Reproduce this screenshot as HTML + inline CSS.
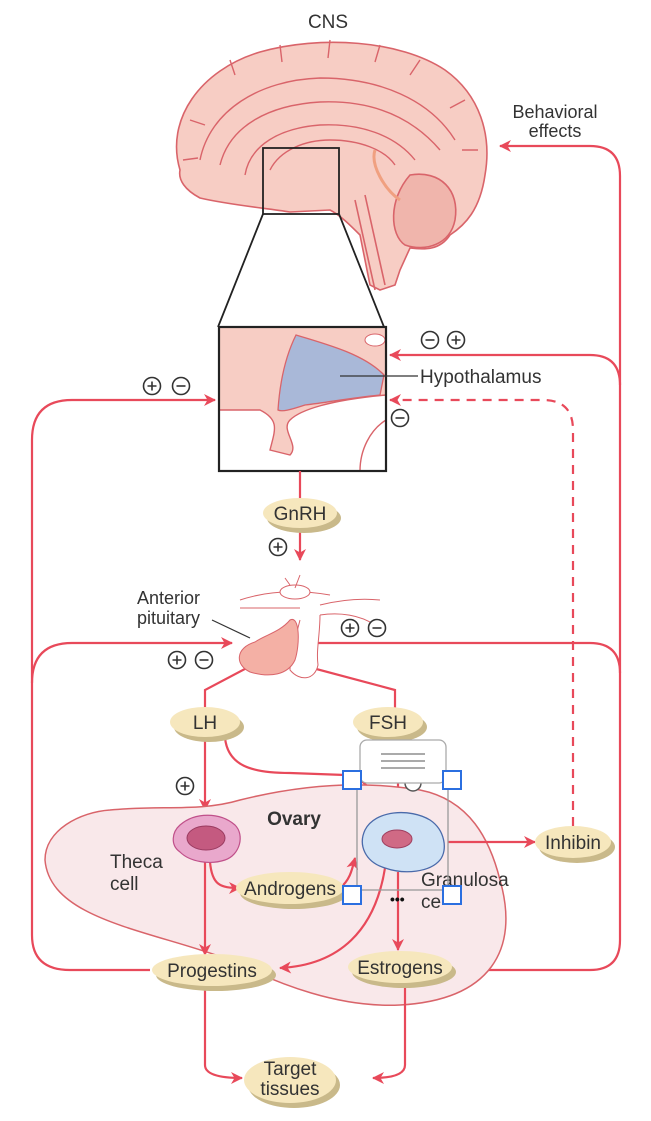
<!DOCTYPE html>
<html><head><meta charset="utf-8"><style>
html,body{margin:0;padding:0;background:#fff;}
svg{display:block;font-family:"Liberation Sans",sans-serif;}
</style></head><body>
<svg width="651" height="1121" viewBox="0 0 651 1121" xmlns="http://www.w3.org/2000/svg">
<defs>
<marker id="ar" markerWidth="12" markerHeight="12" refX="11" refY="6" orient="auto" markerUnits="userSpaceOnUse">
<path d="M0,0 L12,6 L0,12 L3.5,6 Z" fill="#e8495a"/></marker>
<g id="pl"><circle r="8.5" fill="#fff" stroke="#333" stroke-width="1.6"/><path d="M-4.5,0H4.5M0,-4.5V4.5" stroke="#333" stroke-width="1.6"/></g>
<g id="mi"><circle r="8.5" fill="#fff" stroke="#333" stroke-width="1.6"/><path d="M-4.5,0H4.5" stroke="#333" stroke-width="1.6"/></g>
</defs>
<text x="328" y="28" font-size="19" fill="#333" text-anchor="middle">CNS</text>
<!-- brain -->
<g stroke="#d9646a" stroke-width="1.6" fill="#f7cdc4">
<path d="M180,170 C165,120 200,70 260,52 C320,35 400,40 445,70 C480,95 492,135 485,175 C480,210 465,225 450,235 C440,250 425,250 410,248 L400,270 L395,285 L380,290 L370,285 L360,235 C350,225 340,215 330,210 L290,212 C265,208 230,205 200,198 C185,190 178,180 180,170 Z"/>
<path d="M410,175 C440,170 460,190 455,220 C450,245 425,252 405,245 C390,235 388,200 410,175 Z" fill="#f0b5ac"/>
<path d="M355,200 L375,290" fill="none"/>
<path d="M365,195 L385,285" fill="none"/>
</g>
<g stroke="#d9646a" stroke-width="1.4" fill="none">
<path d="M200,160 C210,110 260,80 320,78 C380,78 430,100 455,140"/>
<path d="M220,165 C230,125 270,105 320,102 C370,100 410,115 440,150"/>
<path d="M245,175 C250,145 280,128 320,125 C360,123 395,135 415,160"/>
<path d="M270,170 C280,150 305,140 330,140 C360,140 385,150 395,165"/>
<path d="M230,60 L235,75 M280,45 L282,62 M330,40 L328,58 M380,45 L375,62 M420,60 L410,75 M465,100 L450,108 M478,150 L462,150 M190,120 L205,125 M183,160 L198,158"/>
<path d="M375,150 C370,165 385,190 400,200" stroke="#f0a080" stroke-width="3"/>
</g>
<rect x="263" y="148" width="76" height="66" fill="none" stroke="#222" stroke-width="1.8"/>
<path d="M263,214 L218,327 M339,214 L384,327" stroke="#222" stroke-width="1.8"/>
<!-- big box -->
<rect x="219" y="327" width="167" height="144" fill="#fff"/>
<path d="M219,327 H386 V395 C330,400 300,410 290,420 C280,430 300,445 290,455 L270,450 C275,430 280,420 260,410 L219,410 Z" fill="#f7cdc4" stroke="#d9646a" stroke-width="1.4"/>
<path d="M296,335 C330,345 365,355 384,375 L380,395 C350,398 330,402 305,405 C290,410 282,412 278,410 C280,380 286,355 296,335 Z" fill="#a9b8d8" stroke="#d9646a" stroke-width="1.3"/>
<path d="M386,420 C370,430 360,450 360,471" fill="none" stroke="#d9646a" stroke-width="1.4"/>
<ellipse cx="375" cy="340" rx="10" ry="6" fill="#fff" stroke="#d9646a"/>
<rect x="219" y="327" width="167" height="144" fill="none" stroke="#222" stroke-width="2.2"/>
<path d="M340,376 H418" stroke="#333" stroke-width="1.2"/>
<text x="420" y="383" font-size="19" fill="#333">Hypothalamus</text>
<use href="#mi" x="430" y="340"/><use href="#pl" x="456" y="340"/>
<use href="#mi" x="400" y="418"/>
<use href="#pl" x="152" y="386"/><use href="#mi" x="181" y="386"/>
<g stroke="#e8495a" stroke-width="2.2" fill="none">
<path d="M590,146 H500" marker-end="url(#ar)"/>
<path d="M590,146 Q620,146 620,176 V940 Q620,970 590,970 H450"/>
<path d="M620,385 Q620,355 590,355 H390" marker-end="url(#ar)"/>
<path d="M620,673 Q620,643 590,643 H293" marker-end="url(#ar)"/>
<path d="M150,970 H70 Q32,970 32,935 V440 Q32,400 72,400 H215" marker-end="url(#ar)"/>
<path d="M32,683 Q32,643 72,643 H232" marker-end="url(#ar)"/>
<path d="M573,826 V430 Q573,400 543,400 H390" stroke-dasharray="9,7" marker-end="url(#ar)"/>
<path d="M300,471 V560" marker-end="url(#ar)"/>
<path d="M258,662 L205,690 V708"/>
<path d="M275,658 L395,690 V708"/>
<path d="M205,737 V810" marker-end="url(#ar)"/>
<path d="M225,738 C228,765 250,773 290,773 L345,775 Q370,778 375,805" marker-end="url(#ar)"/>
<path d="M398,737 V805" marker-end="url(#ar)"/>
</g>
<!-- pituitary -->
<g stroke="#d9646a" stroke-width="1" fill="none">
<path d="M240,600 C270,590 300,590 330,595 M240,608 H300 M320,605 C340,600 360,598 380,600 M320,615 C340,612 360,615 375,625"/>
<ellipse cx="295" cy="592" rx="15" ry="7" fill="#fff"/>
<path d="M285,578 L290,585 M300,575 L295,588"/>
<path d="M300,620 C295,640 290,655 290,670 C300,682 315,680 318,665 C316,650 320,635 320,615" fill="#fff"/>
</g>
<path d="M255,642 C265,635 280,632 290,620 C300,615 300,645 295,660 C288,675 270,678 250,672 C235,665 235,648 255,642 Z" fill="#f4b0a5" stroke="#d9646a" stroke-width="1"/>
<text x="137" y="604" font-size="18" fill="#333">Anterior</text>
<text x="137" y="624" font-size="18" fill="#333">pituitary</text>
<path d="M212,620 L250,638" stroke="#333" stroke-width="1.2"/>
<use href="#pl" x="350" y="628"/><use href="#mi" x="377" y="628"/>
<use href="#pl" x="177" y="660"/><use href="#mi" x="204" y="660"/>
<use href="#pl" x="278" y="547"/>
<!-- ovary -->
<path d="M110,810 C160,805 200,812 240,800 C300,785 360,780 420,790 C470,800 490,840 500,880 C520,950 490,1000 400,1005 C340,1008 280,985 230,960 C150,930 50,920 45,860 C45,830 80,812 110,810 Z" fill="#f9e8ea" stroke="#d9646a" stroke-width="1.5"/>
<g stroke="#e8495a" stroke-width="2.2" fill="none">
<path d="M205,862 V955" marker-end="url(#ar)"/>
<path d="M210,862 C212,885 220,888 240,888" marker-end="url(#ar)"/>
<path d="M340,888 C350,880 352,870 355,858" marker-end="url(#ar)"/>
<path d="M385,868 C375,930 340,965 280,968" marker-end="url(#ar)"/>
<path d="M398,872 V950" marker-end="url(#ar)"/>
<path d="M448,842 H535" marker-end="url(#ar)"/>
<path d="M205,985 V1065 Q205,1078 242,1078" marker-end="url(#ar)"/>
<path d="M405,985 V1065 Q405,1078 373,1078" marker-end="url(#ar)"/>
</g>
<path d="M180,825 C195,812 220,812 235,825 C245,835 240,855 225,860 C210,865 190,862 180,852 C170,845 172,832 180,825 Z" fill="#e9a8cc" stroke="#c0508a" stroke-width="1.2"/>
<ellipse cx="206" cy="838" rx="19" ry="12" fill="#c45a80" stroke="#9a3a60"/>
<path d="M365,830 C375,810 410,808 430,820 C445,830 448,850 440,860 C430,872 405,875 385,868 C365,862 358,845 365,830 Z" fill="#cfe2f5" stroke="#4a6aaa" stroke-width="1.3"/>
<ellipse cx="397" cy="839" rx="15" ry="9" fill="#d06a85" stroke="#a04060"/>
<text x="294" y="825" font-size="19" font-weight="bold" fill="#333" text-anchor="middle">Ovary</text>
<text x="110" y="868" font-size="19" fill="#333">Theca</text>
<text x="110" y="890" font-size="19" fill="#333">cell</text>
<text x="421" y="886" font-size="19" fill="#333">Granulosa</text>
<text x="421" y="908" font-size="19" fill="#333">ce</text>
<text x="390" y="904" font-size="14" fill="#111" font-weight="bold">•••</text>
<g font-size="19" fill="#333" text-anchor="middle">
<g><ellipse cx="304" cy="518" rx="37" ry="15" fill="#c9b98a"/><ellipse cx="300" cy="513" rx="37" ry="15" fill="#f6e7bd"/><text x="300" y="520">GnRH</text></g>
<g><ellipse cx="209" cy="727" rx="35" ry="15" fill="#c9b98a"/><ellipse cx="205" cy="722" rx="35" ry="15" fill="#f6e7bd"/><text x="205" y="729">LH</text></g>
<g><ellipse cx="392" cy="727" rx="35" ry="15" fill="#c9b98a"/><ellipse cx="388" cy="722" rx="35" ry="15" fill="#f6e7bd"/><text x="388" y="729">FSH</text></g>
<g><ellipse cx="577" cy="847" rx="38" ry="16" fill="#c9b98a"/><ellipse cx="573" cy="842" rx="38" ry="16" fill="#f6e7bd"/><text x="573" y="849">Inhibin</text></g>
<g><ellipse cx="294" cy="893" rx="54" ry="16" fill="#c9b98a"/><ellipse cx="290" cy="888" rx="54" ry="16" fill="#f6e7bd"/><text x="290" y="895">Androgens</text></g>
<g><ellipse cx="216" cy="975" rx="60" ry="16" fill="#c9b98a"/><ellipse cx="212" cy="970" rx="60" ry="16" fill="#f6e7bd"/><text x="212" y="977">Progestins</text></g>
<g><ellipse cx="404" cy="972" rx="52" ry="16" fill="#c9b98a"/><ellipse cx="400" cy="967" rx="52" ry="16" fill="#f6e7bd"/><text x="400" y="974">Estrogens</text></g>
<g><ellipse cx="294" cy="1085" rx="46" ry="23" fill="#c9b98a"/><ellipse cx="290" cy="1080" rx="46" ry="23" fill="#f6e7bd"/><text x="290" y="1075">Target</text><text x="290" y="1095">tissues</text></g>
</g>
<text x="555" y="118" font-size="18" fill="#333" text-anchor="middle">Behavioral</text>
<text x="555" y="137" font-size="18" fill="#333" text-anchor="middle">effects</text>
<use href="#pl" x="185" y="786"/>
<circle cx="413" cy="783" r="8" fill="#fff" stroke="#555" stroke-width="1.5"/>
<rect x="357" y="781" width="91" height="109" fill="none" stroke="#999" stroke-width="1.3"/>
<rect x="360" y="740" width="86" height="43" rx="7" fill="#fff" stroke="#aaa" stroke-width="1.3"/>
<path d="M381,754H425M381,761H425M381,768H425" stroke="#aaa" stroke-width="2"/>
<g fill="#fff" stroke="#2b6fe0" stroke-width="2">
<rect x="343" y="771" width="18" height="18"/><rect x="443" y="771" width="18" height="18"/>
<rect x="343" y="886" width="18" height="18"/><rect x="443" y="886" width="18" height="18"/>
</g>
</svg>
</body></html>
